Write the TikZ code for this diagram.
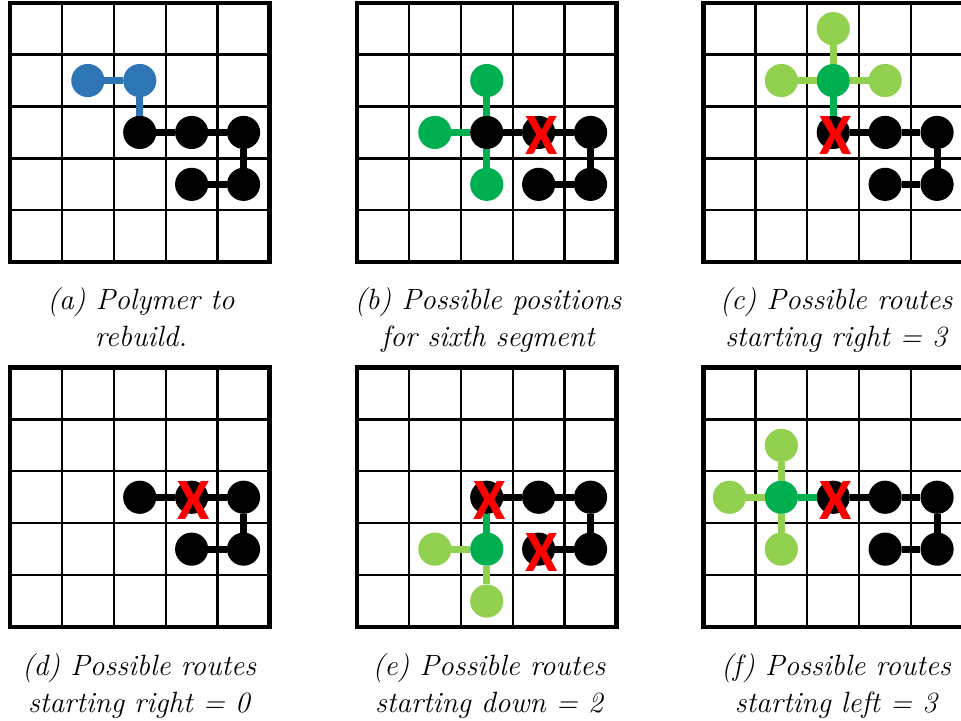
\documentclass[tikz,border=0pt]{standalone}
\usepackage{fontspec}
\newfontfamily\markfont{Carlito}
\definecolor{polyblue}{HTML}{2E75B6}
\definecolor{trialgreen}{HTML}{00B050}
\definecolor{nextgreen}{HTML}{92D050}
\tikzset{
  segdot/.style={circle, minimum size=13pt, inner sep=0pt, outer sep=0pt, draw=none},
  bond/.style={line width=2.75pt},
  gridline/.style={line width=0.9pt},
  gridframe/.style={line width=1.6pt},
  clash/.style={text=red, font=\markfont\bfseries\fontsize{23}{23}\selectfont, inner sep=0pt},
  caption/.style={anchor=base, font=\fontsize{11.5}{14}\selectfont\itshape, inner sep=0pt},
}
% one lattice site of the current panel
\newcommand\seg[4]{\node[segdot, fill=#4] (#1) at ({(#2+0.5)*51.9},{(#3+0.5)*51.9}) {};}
% red cross over an occupied site
\newcommand\clashmark[2]{\node[clash] (#1) at ([shift={(2.5,3)}]#2.center) {X};}
% 5x5 lattice
\newcommand\lattice{%
  \foreach \i in {1,...,4} {
    \draw[gridline] (\i*51.9,0) -- (\i*51.9,259.5);
    \draw[gridline] (0,\i*51.9) -- (259.5,\i*51.9);
  }
  \draw[gridframe] (0,0) rectangle (259.5,259.5);
}
\begin{document}
\begin{tikzpicture}[x=0.392pt, y=-0.392pt]
\useasboundingbox (0,0) rectangle (961,721);
\clip (0,0) rectangle (961,721);

% (a) polymer to rebuild
\begin{scope}[shift={(10,2.7)}]
  \lattice
  \seg{a11}{1}{1}{polyblue}
  \seg{a21}{2}{1}{polyblue}
  \seg{a22}{2}{2}{black}
  \seg{a32}{3}{2}{black}
  \seg{a42}{4}{2}{black}
  \seg{a43}{4}{3}{black}
  \seg{a33}{3}{3}{black}
  \draw[bond, polyblue] (a11) -- (a21) (a21) -- (a22);
  \draw[bond] (a22) -- (a32) -- (a42) -- (a43) -- (a33);
\end{scope}

% (b) candidate sites for the sixth segment
\begin{scope}[shift={(357,2.7)}]
  \lattice
  \seg{b21}{2}{1}{trialgreen}
  \seg{b12}{1}{2}{trialgreen}
  \seg{b23}{2}{3}{trialgreen}
  \seg{b22}{2}{2}{black}
  \seg{b32}{3}{2}{black}
  \seg{b42}{4}{2}{black}
  \seg{b43}{4}{3}{black}
  \seg{b33}{3}{3}{black}
  \draw[bond, trialgreen] (b22) -- (b21) (b22) -- (b12) (b22) -- (b23);
  \draw[bond] (b22) -- (b32) -- (b42) -- (b43) -- (b33);
  \clashmark{bx}{b32}
\end{scope}

% (c) routes starting right
\begin{scope}[shift={(703.5,2.7)}]
  \lattice
  \seg{c21}{2}{1}{trialgreen}
  \seg{c20}{2}{0}{nextgreen}
  \seg{c11}{1}{1}{nextgreen}
  \seg{c31}{3}{1}{nextgreen}
  \seg{c22}{2}{2}{black}
  \seg{c32}{3}{2}{black}
  \seg{c42}{4}{2}{black}
  \seg{c43}{4}{3}{black}
  \seg{c33}{3}{3}{black}
  \draw[bond, nextgreen] (c21) -- (c20) (c21) -- (c11) (c21) -- (c31);
  \draw[bond, trialgreen] (c21) -- (c22);
  \draw[bond] (c22) -- (c32) -- (c42) -- (c43) -- (c33);
  \clashmark{cx}{c22}
\end{scope}

% (d) routes starting right, none free
\begin{scope}[shift={(10,367.5)}]
  \lattice
  \seg{d22}{2}{2}{black}
  \seg{d32}{3}{2}{black}
  \seg{d42}{4}{2}{black}
  \seg{d43}{4}{3}{black}
  \seg{d33}{3}{3}{black}
  \draw[bond] (d22) -- (d32) -- (d42) -- (d43) -- (d33);
  \clashmark{dx}{d32}
\end{scope}

% (e) routes starting down
\begin{scope}[shift={(357,367.5)}]
  \lattice
  \seg{e23}{2}{3}{trialgreen}
  \seg{e13}{1}{3}{nextgreen}
  \seg{e24}{2}{4}{nextgreen}
  \seg{e22}{2}{2}{black}
  \seg{e32}{3}{2}{black}
  \seg{e42}{4}{2}{black}
  \seg{e43}{4}{3}{black}
  \seg{e33}{3}{3}{black}
  \draw[bond, nextgreen] (e23) -- (e13) (e23) -- (e24);
  \draw[bond, trialgreen] (e22) -- (e23);
  \draw[bond] (e22) -- (e32) -- (e42) -- (e43) -- (e33);
  \clashmark{ex1}{e22}
  \clashmark{ex2}{e33}
\end{scope}

% (f) routes starting left
\begin{scope}[shift={(703.5,367.5)}]
  \lattice
  \seg{f12}{1}{2}{trialgreen}
  \seg{f02}{0}{2}{nextgreen}
  \seg{f11}{1}{1}{nextgreen}
  \seg{f13}{1}{3}{nextgreen}
  \seg{f22}{2}{2}{black}
  \seg{f32}{3}{2}{black}
  \seg{f42}{4}{2}{black}
  \seg{f43}{4}{3}{black}
  \seg{f33}{3}{3}{black}
  \draw[bond, nextgreen] (f12) -- (f02) (f12) -- (f11) (f12) -- (f13);
  \draw[bond, trialgreen] (f12) -- (f22);
  \draw[bond] (f22) -- (f32) -- (f42) -- (f43) -- (f33);
  \clashmark{fx}{f22}
\end{scope}

% captions
\node[caption] (capa1) at (141,310) {(a) Polymer to};
\node[caption] (capa2) at (141,347) {rebuild.};
\node[caption] (capb1) at (488,310) {(b) Possible positions};
\node[caption] (capb2) at (488,347) {for sixth segment};
\node[caption] (capc1) at (836,310) {(c) Possible routes};
\node[caption] (capc2) at (836,347) {starting right = 3};
\node[caption] (capd1) at (139,675) {(d) Possible routes};
\node[caption] (capd2) at (139,712) {starting right = 0};
\node[caption] (cape1) at (489,675) {(e) Possible routes};
\node[caption] (cape2) at (489,712) {starting down = 2};
\node[caption] (capf1) at (836,675) {(f) Possible routes};
\node[caption] (capf2) at (836,712) {starting left = 3};
\end{tikzpicture}
\end{document}
